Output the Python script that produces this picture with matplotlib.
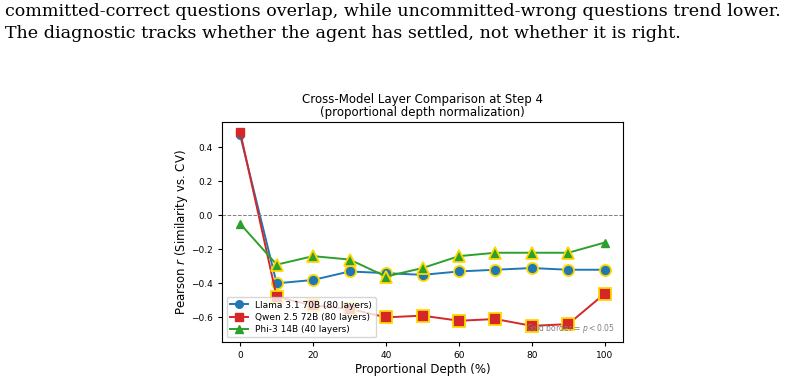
import matplotlib.pyplot as plt
import numpy as np

depth = [0, 10, 20, 30, 40, 50, 60, 70, 80, 90, 100]

llama = [0.47, -0.40, -0.38, -0.33, -0.34, -0.35, -0.33, -0.32, -0.31, -0.32, -0.32]
qwen = [0.49, -0.48, -0.53, -0.55, -0.60, -0.59, -0.62, -0.61, -0.65, -0.64, -0.46]
phi = [-0.05, -0.29, -0.24, -0.26, -0.36, -0.31, -0.24, -0.22, -0.22, -0.22, -0.16]

# True where p < 0.05 (drawn with gold border)
llama_sig = [False] + [True] * 10
qwen_sig = [False] + [True] * 10
phi_sig = [False] + [True] * 9 + [False]

labels = ['Llama 3.1 70B (80 layers)', 'Qwen 2.5 72B (80 layers)', 'Phi-3 14B (40 layers)']
colors = ['#1f77b4', '#d62728', '#2ca02c']
markers = ['o', 's', '^']

text_lines = [
  'committed-correct questions overlap, while uncommitted-wrong questions trend lower.',
  'The diagnostic tracks whether the agent has settled, not whether it is right.',
]

fig = plt.figure(figsize=(8.08, 3.8), dpi=100)

fig.text(5 / 808, 1 - 16 / 380, text_lines[0], family='DejaVu Serif', fontsize=12.6, va='baseline')
fig.text(5 / 808, 1 - 38 / 380, text_lines[1], family='DejaVu Serif', fontsize=12.6, va='baseline')

ax = fig.add_axes([222 / 808, 1 - 342 / 380, 401 / 808, 220.5 / 380])

series = [llama, qwen, phi]
sigs = [llama_sig, qwen_sig, phi_sig]
for vals, sig, lab, c, m in zip(series, sigs, labels, colors, markers):
  ax.plot(depth, vals, color=c, marker=m, markersize=5.5, linewidth=1.4, label=lab)
  x = np.array(depth)[np.array(sig)]
  y = np.array(vals)[np.array(sig)]
  ax.plot(x, y, linestyle='none', marker=m, markersize=8, color=c,
          markeredgecolor='gold', markeredgewidth=1.3)

ax.axhline(0, color='gray', linestyle='--', linewidth=0.7)

ax.set_xlim(-5, 105)
ax.set_ylim(-0.745, 0.552)
ax.set_yticks([-0.6, -0.4, -0.2, 0.0, 0.2, 0.4])
ax.tick_params(labelsize=6.5, length=3)

ax.set_xlabel('Proportional Depth (%)', fontsize=8.5, labelpad=2)
ax.set_ylabel('Pearson $r$ (Similarity vs. CV)', fontsize=8.5, labelpad=1)
ax.set_title('Cross-Model Layer Comparison at Step 4\n(proportional depth normalization)',
             fontsize=8.5, pad=4, linespacing=1.0)

ax.legend(loc='lower left', fontsize=6.5, handlelength=2, borderpad=0.4, labelspacing=0.35)
ax.text(0.98, 0.03, 'Gold border = $p < 0.05$', transform=ax.transAxes,
        ha='right', va='bottom', fontsize=5.5, color='gray')

fig.savefig('out.png', dpi=100)
